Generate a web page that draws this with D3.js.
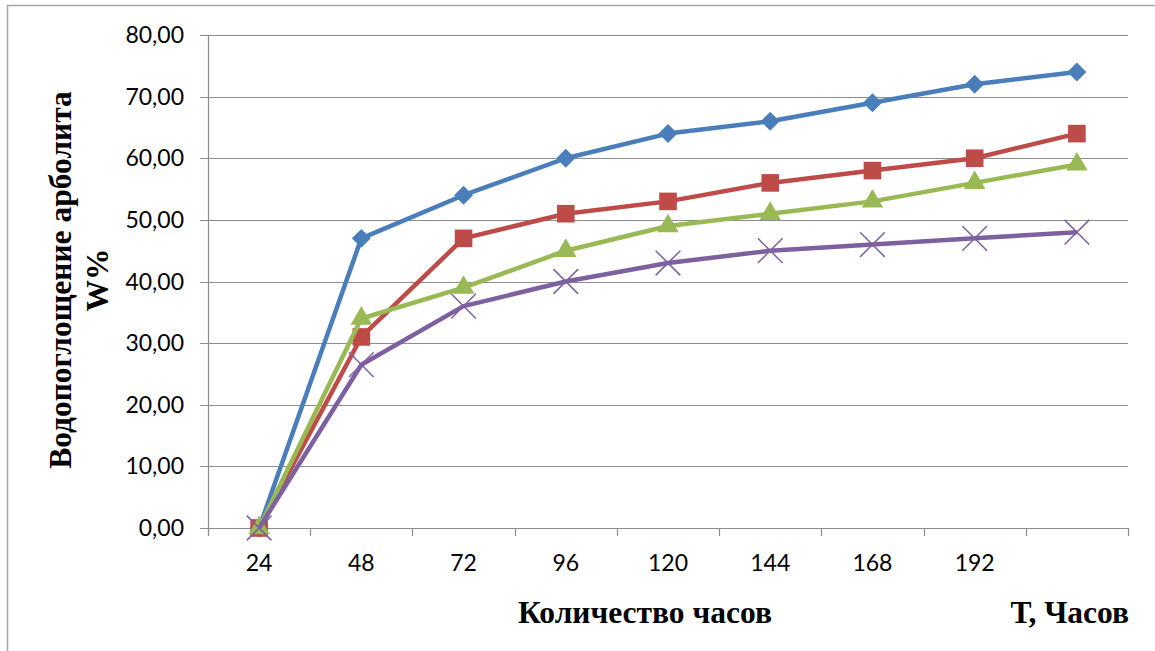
<!DOCTYPE html>
<html>
<head>
<meta charset="utf-8">
<script src="https://cdn.jsdelivr.net/npm/d3@7"></script>
<style>
  body { margin: 0; background: #fff; }
  svg { display: block; }
</style>
</head>
<body>
<svg></svg>
<script>
// hours along the x axis (last category has no label)
const hours = ["24", "48", "72", "96", "120", "144", "168", "192", ""];
const yTicks = [0, 10, 20, 30, 40, 50, 60, 70, 80];

const seriesBlue   = [0, 47, 54, 60, 64, 66, 69, 72, 74];
const seriesRed    = [0, 31, 47, 51, 53, 56, 58, 60, 64];
const seriesGreen  = [0, 34, 39, 45, 49, 51, 53, 56, 59];
const seriesPurple = [0, 26.5, 36, 40, 43, 45, 46, 47, 48];

const width = 1155, height = 651;
const plot = {left: 208, right: 1128, top: 35, bottom: 528};

const svg = d3.select("svg")
    .attr("width", width)
    .attr("height", height);

// outer chart frame
svg.append("rect")
    .attr("x", 7.5).attr("y", 5.5)
    .attr("width", width + 10).attr("height", height + 10)
    .attr("fill", "none")
    .attr("stroke", "#a6a6a6")
    .attr("stroke-width", 1.5);

const x = d3.scaleBand()
    .domain(d3.range(hours.length))
    .range([plot.left, plot.right]);

const y = d3.scaleLinear()
    .domain([0, 80])
    .range([plot.bottom, plot.top]);

// horizontal gridlines
svg.append("g")
  .selectAll("line")
  .data(yTicks)
  .join("line")
    .attr("x1", plot.left - 8).attr("x2", plot.right)
    .attr("y1", d => Math.round(y(d)) + 0.5)
    .attr("y2", d => Math.round(y(d)) + 0.5)
    .attr("stroke", "#8c8c8c")
    .attr("stroke-width", 1.2);

// y axis line
svg.append("line")
    .attr("x1", plot.left + 0.5).attr("x2", plot.left + 0.5)
    .attr("y1", plot.top).attr("y2", plot.bottom + 8)
    .attr("stroke", "#8c8c8c")
    .attr("stroke-width", 1.2);

// x axis ticks at category boundaries
const bounds = d3.range(hours.length + 1).map(i => plot.left + i * x.step());
svg.append("g")
  .selectAll("line")
  .data(bounds)
  .join("line")
    .attr("x1", d => Math.round(d) + 0.5).attr("x2", d => Math.round(d) + 0.5)
    .attr("y1", plot.bottom).attr("y2", plot.bottom + 8)
    .attr("stroke", "#8c8c8c")
    .attr("stroke-width", 1.2);

const fmt = d => d.toFixed(2).replace(".", ",");

svg.append("g")
  .selectAll("text")
  .data(yTicks)
  .join("text")
    .attr("x", 184)
    .attr("y", d => y(d) + 8)
    .attr("text-anchor", "end")
    .attr("font-family", "Lato, 'Open Sans', sans-serif")
    .attr("font-size", 23)
    .attr("fill", "#000")
    .text(fmt);

svg.append("g")
  .selectAll("text")
  .data(hours)
  .join("text")
    .attr("x", (d, i) => x(i) + x.bandwidth() / 2)
    .attr("y", 571)
    .attr("text-anchor", "middle")
    .attr("font-family", "Lato, 'Open Sans', sans-serif")
    .attr("font-size", 23)
    .attr("fill", "#000")
    .text(d => d);

// axis titles
const serif = "'Liberation Serif', 'Times New Roman', serif";
const yTitle = svg.append("text")
    .attr("transform", "translate(71,280) rotate(-90)")
    .attr("text-anchor", "middle")
    .attr("font-family", serif)
    .attr("font-weight", "bold")
    .attr("font-size", 31.5);
yTitle.append("tspan").attr("x", 0).attr("y", 0).text("Водопоглощение арболита");
yTitle.append("tspan").attr("x", 0).attr("y", 37).text("W%");

svg.append("text")
    .attr("x", 645).attr("y", 623)
    .attr("text-anchor", "middle")
    .attr("font-family", serif)
    .attr("font-weight", "bold")
    .attr("font-size", 31.5)
    .text("Количество часов");

svg.append("text")
    .attr("x", 1129).attr("y", 623)
    .attr("text-anchor", "end")
    .attr("font-family", serif)
    .attr("font-weight", "bold")
    .attr("font-size", 31.5)
    .text("Т, Часов");

// series
const series = [
  {values: seriesBlue,   color: "#4a7ebb", symbol: d3.symbolSquare,   size: 180, rotate: 45},
  {values: seriesRed,    color: "#be4b48", symbol: d3.symbolSquare,   size: 310, rotate: 0},
  {values: seriesGreen,  color: "#98b954", symbol: d3.symbolTriangle, size: 200, rotate: 0},
  {values: seriesPurple, color: "#7d60a0", symbol: d3.symbolX,        size: 400, rotate: 0}
];

const line = d3.line()
    .x((d, i) => x(i) + x.bandwidth() / 2)
    .y(d => y(d));

series.forEach(s => {
  const g = svg.append("g");
  g.append("path")
      .attr("d", line(s.values))
      .attr("fill", "none")
      .attr("stroke", s.color)
      .attr("stroke-width", 4.5)
      .attr("stroke-linejoin", "round");
  const isX = s.symbol === d3.symbolX;
  g.selectAll("path.m")
    .data(s.values)
    .join("path")
      .attr("class", "m")
      .attr("transform", (d, i) =>
        `translate(${x(i) + x.bandwidth() / 2},${y(d)}) rotate(${s.rotate})`)
      .attr("d", d3.symbol().type(s.symbol).size(s.size))
      .attr("fill", isX ? "none" : s.color)
      .attr("stroke", s.color)
      .attr("stroke-width", isX ? 1.5 : 0);
});
</script>
</body>
</html>
